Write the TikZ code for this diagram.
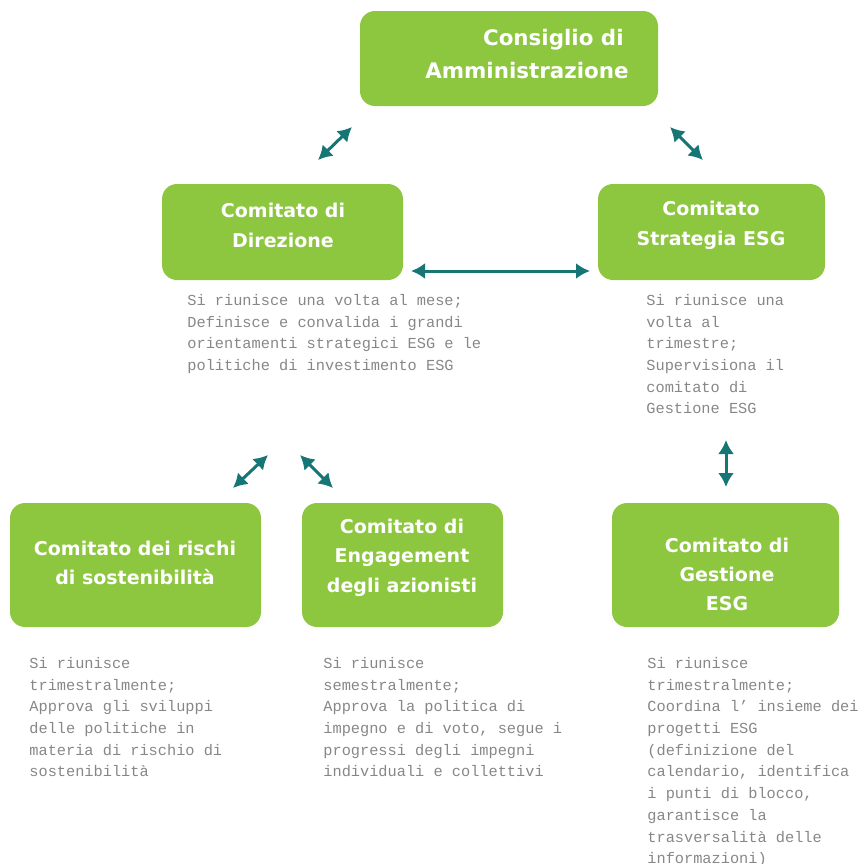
\documentclass[tikz,border=0pt]{standalone}
\usepackage{fontspec}
\setmainfont{DejaVu Sans}
\newfontfamily\notefont{Liberation Mono}
\usetikzlibrary{arrows.meta}

\definecolor{esggreen}{RGB}{141,198,63}
\definecolor{esgteal}{RGB}{22,117,117}
\definecolor{notegray}{RGB}{135,135,135}

\tikzset{
  box/.style={fill=esggreen, rounded corners=7.5pt, inner sep=0pt},
  boxtext/.style={text=white, align=center, inner sep=0pt,
    font=\bfseries\fontsize{9.5}{15}\selectfont},
  note/.style={anchor=north west, inner sep=0pt, align=left, text=notegray,
    font=\notefont\fontsize{7.65}{10.85}\selectfont},
  link/.style={esgteal, line width=1.5pt,
    {Latex[length=7pt,width=8pt]}-{Latex[length=7pt,width=8pt]}}
}

\begin{document}
\begin{tikzpicture}[x=0.5pt,y=-0.5pt]

% Page frame
\useasboundingbox (0,0) rectangle (863,864);

% Boxes
\node[box, minimum width=149pt, minimum height=47.5pt] (cda) at (509,58.5) {};
\node[box, minimum width=120.5pt, minimum height=48pt] (dir) at (282.5,232) {};
\node[box, minimum width=113.5pt, minimum height=48pt] (str) at (711.5,232) {};
\node[box, minimum width=125.5pt, minimum height=62pt] (ris) at (135.5,565) {};
\node[box, minimum width=100.5pt, minimum height=62pt] (eng) at (402.5,565) {};
\node[box, minimum width=113.5pt, minimum height=62pt] (ges) at (725.5,565) {};

% Box titles
\node[boxtext, anchor=east, align=right, font=\bfseries\fontsize{10.7}{16.5}\selectfont]
  (tcda) at (629,54.5) {Consiglio di\hspace*{2.5pt}\\Amministrazione};
\node[boxtext] (tdir) at (283,225) {Comitato di\\Direzione};
\node[boxtext] (tstr) at (711,225) {Comitato\\Strategia ESG};
\node[boxtext, font=\bfseries\fontsize{9.5}{14.5}\selectfont] (tris) at (135,562.5) {Comitato dei rischi\\di sostenibilità};
\node[boxtext, font=\bfseries\fontsize{9.5}{14.75}\selectfont] (teng) at (402,557.5) {Comitato di\\Engagement\\degli azionisti};
\node[boxtext, font=\bfseries\fontsize{9.5}{14.5}\selectfont] (tges) at (727,574) {Comitato di\\Gestione\\ESG};

% Arrow end points
\coordinate (a1) at (318,160);  \coordinate (b1) at (352,127);
\coordinate (a2) at (670,127);  \coordinate (b2) at (703,160);
\coordinate (a3) at (411,271);  \coordinate (b3) at (590,271);
\coordinate (a4) at (233,488);  \coordinate (b4) at (268,455);
\coordinate (a5) at (300,455);  \coordinate (b5) at (333,488);
\coordinate (a6) at (726,440);  \coordinate (b6) at (726,487);

% Double arrows
\draw[link] (a1) -- (b1);
\draw[link] (a2) -- (b2);
\draw[link] (a3) -- (b3);
\draw[link] (a4) -- (b4);
\draw[link] (a5) -- (b5);
\draw[link] (a6) -- (b6);

% Notes under the boxes
\node[note] (ndir) at (187,294) {Si riunisce una volta al mese;\\Definisce e convalida i grandi\\orientamenti strategici ESG e le\\politiche di investimento ESG};
\node[note] (nstr) at (646,294) {Si riunisce una\\volta al\\trimestre;\\Supervisiona il\\comitato di\\Gestione ESG};
\node[note] (nris) at (29,657) {Si riunisce\\trimestralmente;\\Approva gli sviluppi\\delle politiche in\\materia di rischio di\\sostenibilità};
\node[note] (neng) at (323,657) {Si riunisce\\semestralmente;\\Approva la politica di\\impegno e di voto, segue i\\progressi degli impegni\\individuali e collettivi};
\node[note] (nges) at (647,657) {Si riunisce\\trimestralmente;\\Coordina l’ insieme dei\\progetti ESG\\(definizione del\\calendario, identifica\\i punti di blocco,\\garantisce la\\trasversalità delle\\informazioni)};

\end{tikzpicture}
\end{document}
